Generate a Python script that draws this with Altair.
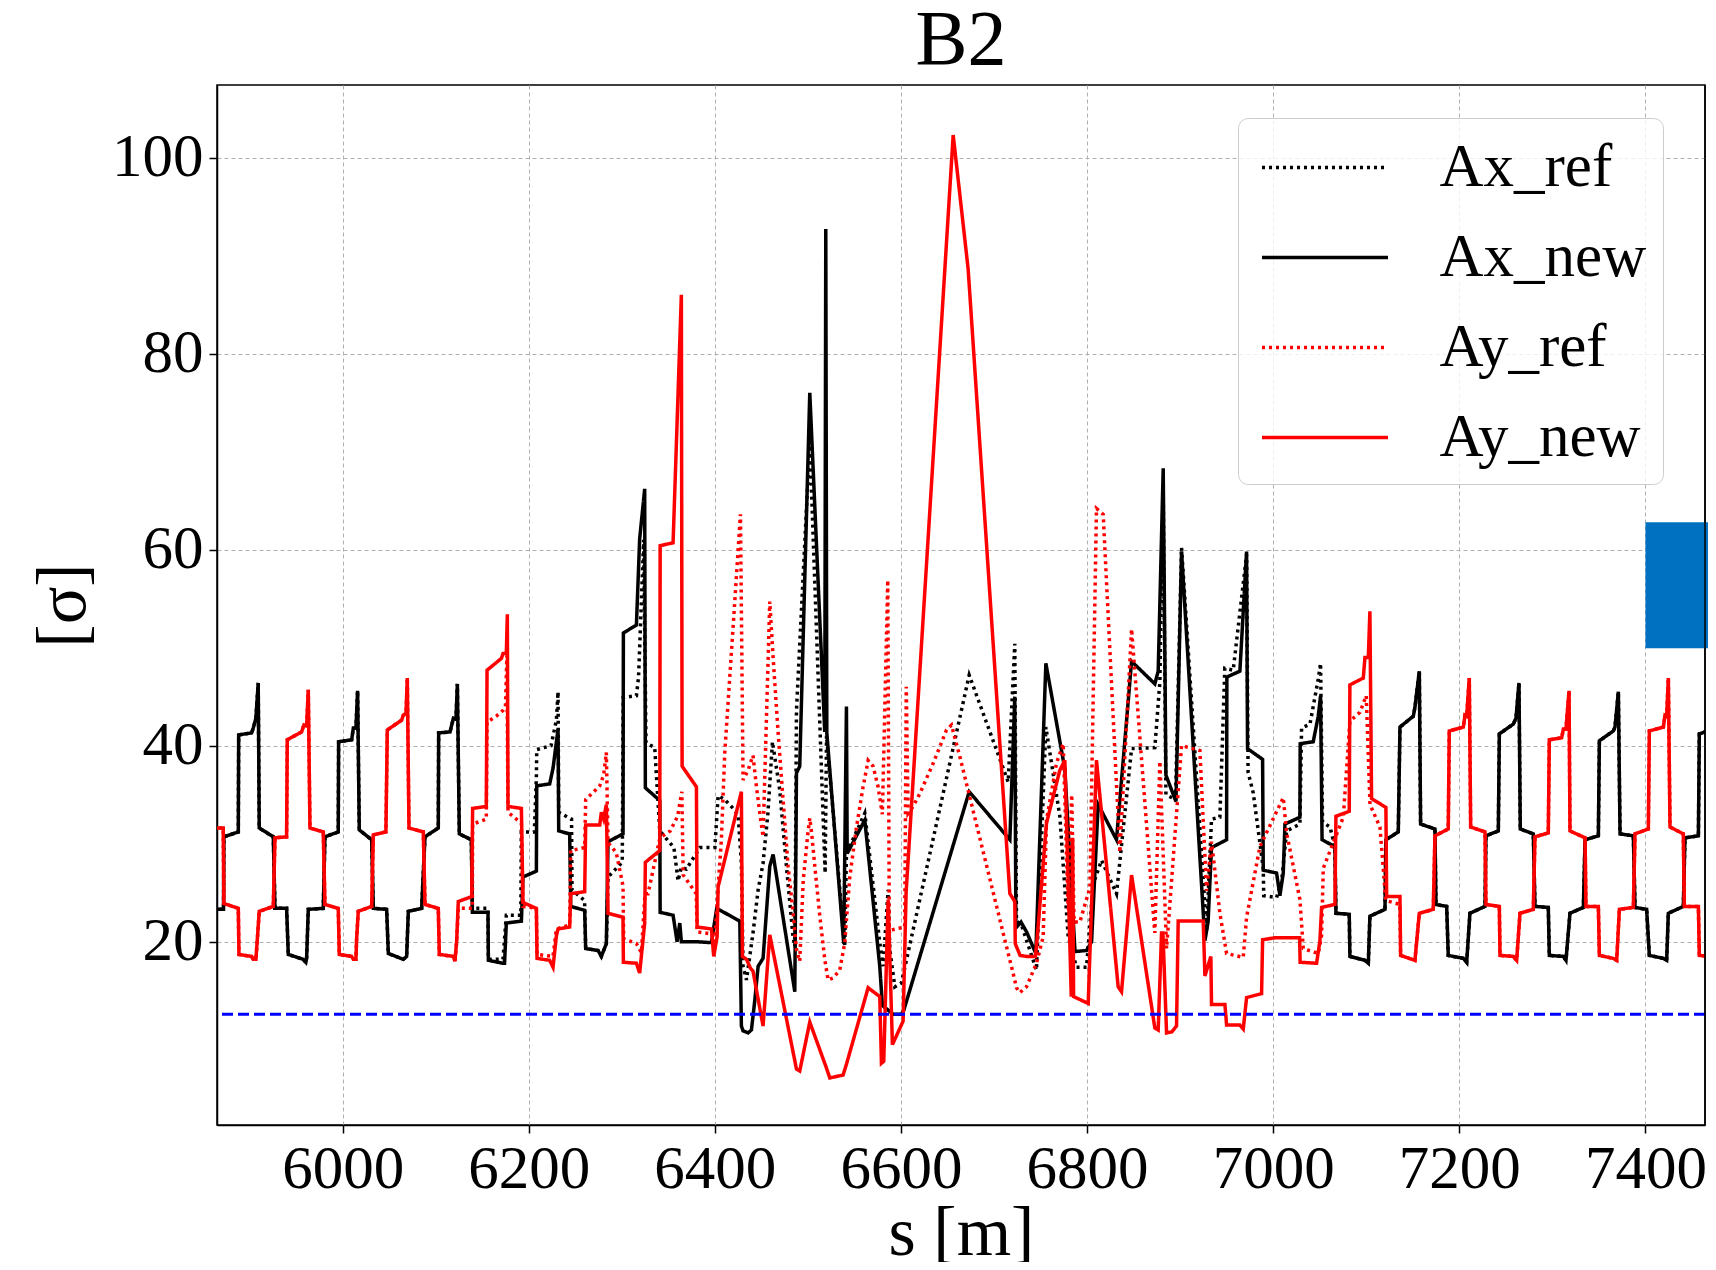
import altair as alt
import pandas as pd

# ---------------- values ----------------
SERIES = ["Ax_ref", "Ax_new", "Ay_ref", "Ay_new"]
COLORS = ["#000000", "#000000", "#ff0000", "#ff0000"]
DASHES = [[3, 4], [1, 0], [3, 4], [1, 0]]

X_DOMAIN = [5865, 7464]
Y_DOMAIN = [1.3, 107.4]
X_TICKS = [6000, 6200, 6400, 6600, 6800, 7000, 7200, 7400]
Y_TICKS = [20, 40, 60, 80, 100]
THRESHOLD = [12.6]
BOX_S = [7400, 7476]
BOX_V = [49.95, 62.8]

# horizontal aperture (black), arc cells left of the insertion, identical for ref/new
AX_ARC_LEFT = [
    (5860, 23.3), (5872.0, 23.3), (5872.4, 30.7), (5887.9, 31.2), (5888.3, 41.1), (5902.2, 41.3),
    (5904.0, 41.8), (5906.8, 42.8), (5909.3, 46.4), (5910.4, 31.6), (5925.5, 30.7), (5927.3, 23.4),
    (5939.8, 23.4), (5941.6, 18.7), (5957.7, 18.2), (5960.5, 17.9), (5961.3, 18.3), (5963.1, 23.3),
    (5979.2, 23.4), (5981.0, 30.7), (5995.3, 31.2), (5995.7, 40.4), (6009.7, 40.6), (6011.5, 41.8),
    (6014.3, 41.8), (6016.1, 45.6), (6017.9, 31.4), (6031.2, 30.4), (6033.0, 23.4), (6047.3, 23.3),
    (6049.1, 18.8), (6065.2, 18.2), (6068.8, 18.5), (6070.6, 23.1), (6084.9, 23.4), (6088.5, 30.7),
    (6102.8, 31.6), (6103.2, 41.3), (6115.4, 41.4), (6119.0, 42.8), (6121.8, 42.7), (6123.3, 46.3),
    (6125.4, 31.0), (6138.3, 30.4),
]
AX_NEW_IR = [
    (6139.4, 23.0), (6156.2, 23.0), (6156.6, 18.1), (6172.3, 17.8), (6174.0, 17.8), (6175.9, 21.9),
    (6192.1, 22.1), (6193.8, 26.6), (6208.2, 27.2), (6208.6, 35.9), (6222.5, 36.1), (6226.1, 37.7),
    (6231.5, 41.7), (6232.2, 31.3), (6244.0, 31.0), (6245.1, 23.6), (6260.1, 23.2), (6261.2, 19.3),
    (6274.5, 19.1), (6278.0, 18.5), (6283.4, 19.8), (6285.2, 30.2), (6301.3, 31.0), (6301.7, 51.5),
    (6315.7, 52.3), (6319.2, 61.1), (6324.6, 66.2), (6325.3, 35.7), (6340.8, 34.4), (6341.2, 23.0),
    (6355.1, 22.7), (6359.4, 20.0), (6362.3, 21.9), (6364.0, 20.0), (6380.2, 20.0), (6396.3, 19.9),
    (6402.0, 23.4), (6426.8, 22.1), (6428.5, 11.4), (6430.3, 10.9), (6435.7, 10.7), (6439.3, 11.0),
    (6442.9, 14.0), (6446.5, 17.5), (6451.8, 18.3), (6459.0, 27.7), (6462.6, 28.9), (6485.9, 14.9),
    (6487.7, 37.2), (6491.2, 37.9), (6502.0, 76.0), (6518.1, 41.4), (6519.2, 92.7), (6520.3, 41.3),
    (6538.5, 19.8), (6541.4, 44.0), (6542.2, 29.0), (6561.1, 32.4), (6577.2, 17.5), (6580.0, 13.5),
    (6591.6, 12.6), (6600.5, 12.6), (6603.0, 13.0), (6673.3, 35.3), (6717.0, 30.4), (6722.3, 45.0),
    (6723.5, 21.4), (6729.0, 22.0), (6735.0, 21.0), (6744.9, 18.8), (6755.7, 48.4), (6776.1, 37.6),
    (6787.0, 19.0), (6799.4, 19.1), (6804.8, 20.0), (6811.9, 34.0), (6831.6, 30.4), (6847.8, 48.6),
    (6872.8, 46.3), (6876.4, 47.6), (6881.8, 68.3), (6884.7, 37.0), (6895.5, 34.3), (6901.5, 59.8),
    (6926.6, 20.1), (6930.0, 22.0), (6933.7, 29.6), (6949.9, 30.4), (6950.2, 47.0), (6964.2, 47.6),
    (6971.4, 59.8), (6972.4, 39.7), (6988.6, 38.6), (6989.3, 27.3), (7003.6, 27.0), (7007.2, 24.7),
    (7010.8, 27.0), (7012.6, 32.0), (7028.7, 32.7), (7029.0, 40.2), (7043.0, 40.4), (7048.4, 43.0),
    (7050.9, 45.1), (7052.5, 30.4), (7066.3, 29.7),
]
AX_REF_IR = [
    (6139.4, 23.4), (6156.2, 23.4), (6156.6, 18.2), (6172.3, 18.2), (6175.9, 22.7), (6191.5, 22.7),
    (6192.0, 31.2), (6206.0, 31.2), (6208.2, 36.8), (6208.6, 39.6), (6224.0, 40.0), (6229.7, 42.6),
    (6231.5, 45.5), (6232.2, 33.2), (6246.0, 32.5), (6246.5, 25.3), (6260.0, 24.2), (6261.2, 19.3),
    (6274.5, 19.1), (6278.0, 18.5), (6283.4, 19.8), (6285.2, 26.6), (6300.5, 28.1), (6301.5, 44.9),
    (6315.7, 45.1), (6318.0, 47.0), (6323.5, 61.0), (6326.0, 40.3), (6335.4, 39.8), (6340.8, 31.3),
    (6356.0, 29.6), (6360.5, 26.2), (6364.0, 27.6), (6369.4, 27.4), (6383.8, 29.6), (6400.0, 29.6),
    (6403.5, 34.9), (6410.6, 34.5), (6419.6, 33.6), (6425.0, 32.9), (6428.5, 28.0), (6430.3, 17.5),
    (6434.0, 16.1), (6441.0, 20.9), (6446.5, 25.3), (6451.8, 28.0), (6457.0, 33.1), (6461.9, 40.4),
    (6469.7, 35.5), (6476.9, 27.7), (6484.0, 20.5), (6486.0, 19.5), (6487.7, 43.6), (6502.0, 71.0),
    (6518.5, 27.0), (6520.0, 41.0), (6539.6, 19.5), (6541.4, 29.0), (6561.1, 33.1), (6577.2, 19.9),
    (6580.8, 17.5), (6586.2, 25.3), (6588.0, 19.2), (6593.4, 15.4), (6600.5, 15.8), (6673.3, 47.2),
    (6715.2, 36.3), (6722.3, 50.4), (6724.1, 22.1), (6729.5, 21.7), (6745.6, 17.1), (6755.7, 41.9),
    (6770.7, 32.8), (6779.7, 20.5), (6788.6, 17.4), (6799.4, 17.4), (6806.6, 25.9), (6815.5, 28.3),
    (6831.6, 24.9), (6847.8, 39.7), (6872.8, 39.8), (6878.2, 46.5), (6881.8, 66.0), (6884.7, 35.0),
    (6895.0, 34.5), (6901.5, 60.2), (6928.4, 21.1), (6933.7, 32.5), (6942.7, 32.7), (6948.0, 47.9),
    (6957.0, 47.7), (6971.4, 59.5), (6973.0, 37.3), (6978.5, 35.2), (6989.3, 27.5), (6989.8, 24.7),
    (7003.6, 24.5), (7009.0, 26.1), (7014.4, 31.3), (7028.7, 32.0), (7030.5, 41.8), (7039.5, 42.2),
    (7048.4, 46.8), (7050.9, 48.4), (7053.0, 32.2), (7061.0, 31.7), (7066.3, 29.7),
]
AX_ARC_RIGHT = [
    (7067.4, 22.9), (7081.7, 22.8), (7082.4, 18.5), (7098.6, 18.1), (7102.2, 17.8), (7103.9, 22.6),
    (7120.1, 23.3), (7121.1, 30.4), (7134.4, 31.2), (7136.2, 41.9), (7150.5, 43.0), (7152.3, 43.9),
    (7157.0, 47.6), (7158.4, 32.0), (7173.8, 31.5), (7174.9, 23.8), (7186.4, 23.6), (7188.1, 18.6),
    (7204.3, 18.3), (7207.9, 17.9), (7211.4, 22.9), (7227.6, 23.6), (7228.6, 30.8), (7241.9, 31.3),
    (7243.0, 41.2), (7258.0, 42.2), (7260.9, 42.8), (7264.1, 46.4), (7265.5, 31.5), (7279.5, 31.0),
    (7281.3, 23.6), (7295.6, 23.5), (7296.7, 18.6), (7311.8, 18.5), (7314.6, 18.1), (7318.9, 22.9),
    (7333.3, 23.5), (7335.1, 30.4), (7349.4, 30.8), (7350.5, 40.5), (7365.5, 41.5), (7367.3, 41.9),
    (7370.9, 45.5), (7372.7, 31.0), (7387.0, 30.8), (7388.8, 23.5), (7401.3, 23.3), (7404.2, 18.6),
    (7419.3, 18.3), (7422.8, 18.1), (7424.6, 22.9), (7440.7, 23.6), (7442.5, 30.6), (7456.9, 30.8),
    (7457.9, 41.2), (7470.0, 41.6),
]

# vertical aperture (red)
AY_ARC_LEFT = [
    (5860, 31.6), (5871.7, 31.6), (5872.4, 23.9), (5887.9, 23.4), (5888.6, 18.7), (5902.2, 18.5),
    (5904.0, 18.2), (5906.8, 18.2), (5908.3, 20.2), (5910.4, 23.1), (5925.5, 23.6), (5927.3, 30.6),
    (5939.8, 30.7), (5940.5, 40.6), (5955.9, 41.4), (5958.4, 42.1), (5961.3, 42.0), (5963.1, 45.7),
    (5964.9, 31.6), (5979.2, 31.2), (5981.0, 23.8), (5995.3, 23.4), (5996.4, 18.7), (6009.7, 18.5),
    (6011.5, 18.2), (6014.3, 18.2), (6015.0, 20.2), (6016.8, 23.1), (6031.2, 23.6), (6033.0, 30.9),
    (6046.5, 31.2), (6048.0, 41.6), (6063.4, 42.6), (6065.2, 43.1), (6068.1, 43.3), (6069.5, 46.9),
    (6071.3, 31.6), (6086.7, 31.2), (6088.5, 23.8), (6102.8, 23.4), (6103.9, 18.7), (6119.0, 18.5),
    (6120.7, 18.0), (6122.5, 20.0),
]
AY_NEW_IR = [
    (6124.3, 24.1), (6138.7, 24.6), (6139.7, 33.6), (6154.4, 33.8), (6155.2, 47.7), (6170.6, 48.9),
    (6172.4, 49.4), (6175.9, 49.4), (6177.0, 53.4), (6177.7, 33.8), (6192.1, 33.6), (6193.8, 24.0),
    (6208.2, 23.4), (6208.9, 18.3), (6222.5, 18.1), (6226.1, 17.4), (6229.7, 20.6), (6231.5, 21.3),
    (6244.0, 21.5), (6245.1, 24.9), (6260.1, 25.1), (6261.2, 31.9), (6276.3, 31.9), (6278.0, 33.2),
    (6280.5, 32.5), (6283.4, 34.0), (6285.2, 22.9), (6301.3, 22.5), (6301.7, 17.9), (6315.7, 17.8),
    (6319.2, 16.8), (6324.6, 21.9), (6325.3, 28.1), (6340.8, 29.3), (6341.2, 60.4), (6355.1, 60.7),
    (6364.0, 86.0), (6364.8, 37.9), (6380.2, 35.8), (6380.9, 21.5), (6396.3, 21.3), (6398.8, 18.5),
    (6402.4, 20.5), (6403.5, 25.6), (6428.5, 35.3), (6429.6, 18.5), (6434.0, 18.2), (6438.2, 17.3),
    (6441.0, 17.0), (6451.8, 11.4), (6459.0, 20.7), (6487.7, 7.0), (6491.2, 6.8), (6502.0, 11.8),
    (6519.2, 7.3), (6523.5, 6.1), (6537.8, 6.4), (6541.4, 7.5), (6564.7, 15.3), (6577.2, 14.4),
    (6579.0, 7.6), (6581.5, 7.8), (6586.2, 24.3), (6590.8, 9.5), (6602.3, 11.9), (6605.5, 25.0),
    (6656.1, 102.3), (6672.2, 88.6), (6717.0, 24.9), (6722.3, 24.1), (6722.8, 19.8), (6728.0, 18.6),
    (6734.9, 18.5), (6744.5, 18.5), (6746.5, 20.5), (6756.4, 32.1), (6770.7, 37.5), (6776.1, 38.5),
    (6783.0, 14.4), (6784.5, 30.6), (6785.5, 14.4), (6801.2, 13.7), (6810.1, 38.5), (6833.4, 15.4),
    (6837.0, 14.9), (6847.8, 26.8), (6872.8, 11.2), (6876.4, 11.0), (6880.0, 20.9), (6881.5, 20.9),
    (6885.4, 10.7), (6891.0, 10.8), (6896.1, 11.4), (6897.9, 22.1), (6924.8, 22.1), (6926.6, 16.5),
    (6933.0, 18.5), (6933.7, 13.6), (6948.1, 13.6), (6949.9, 11.5), (6964.2, 11.5), (6967.8, 11.1),
    (6971.4, 14.3), (6987.5, 14.7), (6988.6, 20.2), (7001.8, 20.4), (7028.4, 20.4), (7028.9, 17.9),
    (7046.6, 17.8), (7050.2, 20.1), (7052.0, 23.5), (7066.3, 23.8), (7067.4, 32.8), (7081.7, 33.3),
    (7082.4, 46.2), (7096.8, 46.9), (7098.6, 49.0), (7102.2, 49.0), (7103.9, 53.7), (7105.7, 34.6),
    (7121.1, 33.7), (7121.9, 24.6), (7136.2, 24.6), (7136.9, 18.6), (7152.3, 18.1),
]
AY_REF_IR = [
    (6124.3, 23.4), (6139.4, 23.4), (6139.7, 32.0), (6154.4, 32.5), (6155.2, 42.4), (6165.0, 43.0),
    (6172.4, 43.6), (6175.0, 44.0), (6176.5, 49.2), (6177.7, 33.2), (6192.1, 32.1), (6193.8, 23.6),
    (6208.2, 23.4), (6208.9, 18.7), (6226.1, 18.5), (6229.7, 21.3), (6244.0, 21.7), (6245.1, 29.3),
    (6260.1, 29.6), (6261.2, 34.5), (6270.0, 35.3), (6276.3, 35.9), (6280.5, 37.0), (6283.4, 39.3),
    (6285.2, 30.1), (6294.0, 29.1), (6301.3, 25.7), (6302.0, 20.3), (6315.7, 19.8), (6321.0, 18.9),
    (6325.0, 24.9), (6328.2, 24.9), (6341.0, 30.6), (6352.0, 31.3), (6360.0, 32.8), (6364.5, 35.3),
    (6366.0, 26.8), (6380.0, 24.9), (6381.0, 21.0), (6396.3, 20.8), (6399.9, 20.0), (6403.5, 25.6),
    (6407.0, 30.4), (6410.6, 39.2), (6416.0, 47.0), (6419.6, 52.1), (6427.5, 63.6), (6430.3, 36.5),
    (6435.7, 37.5), (6441.0, 39.0), (6444.7, 35.8), (6448.3, 33.1), (6451.8, 30.7), (6459.0, 54.7),
    (6462.6, 49.0), (6468.0, 41.3), (6473.3, 34.5), (6478.7, 27.7), (6484.0, 23.0), (6487.7, 19.2),
    (6491.2, 18.0), (6495.0, 26.3), (6500.0, 31.1), (6502.0, 32.6), (6504.0, 31.1), (6507.4, 27.7),
    (6512.8, 22.6), (6518.1, 18.2), (6521.7, 16.1), (6527.1, 16.3), (6534.2, 17.1), (6539.6, 19.9),
    (6541.4, 22.2), (6545.0, 26.6), (6552.2, 31.7), (6559.3, 35.8), (6564.7, 38.5), (6570.1, 37.9),
    (6575.4, 35.8), (6580.0, 33.0), (6585.8, 56.9), (6587.5, 20.8), (6590.0, 21.2), (6604.0, 21.5),
    (6605.7, 46.0), (6607.7, 33.1), (6613.0, 33.8), (6620.2, 35.1), (6634.6, 38.2), (6648.9, 41.6),
    (6654.3, 42.1), (6663.2, 38.9), (6713.4, 19.5), (6720.5, 16.8), (6724.1, 15.3), (6727.7, 14.8),
    (6734.9, 15.4), (6745.6, 17.8), (6752.8, 20.5), (6756.4, 32.4), (6767.1, 38.2), (6774.3, 40.2),
    (6779.7, 23.3), (6783.5, 35.0), (6786.0, 22.0), (6792.2, 22.0), (6803.0, 25.5), (6810.1, 64.2),
    (6817.3, 63.6), (6835.2, 29.1), (6847.8, 51.9), (6872.8, 20.9), (6878.2, 38.4), (6885.4, 19.3),
    (6901.5, 40.0), (6921.2, 39.5), (6928.4, 25.2), (6933.7, 30.2), (6942.7, 22.9), (6949.9, 18.8),
    (6967.8, 18.4), (6971.4, 22.5), (6985.7, 29.7), (7010.8, 34.7), (7014.4, 31.1), (7028.7, 24.3),
    (7032.3, 19.3), (7048.4, 18.8), (7052.0, 20.6), (7053.8, 27.5), (7075.3, 32.7), (7082.4, 42.5),
    (7093.2, 43.4), (7100.0, 45.1), (7104.0, 34.0), (7114.7, 31.7), (7121.0, 24.2), (7136.2, 23.8),
    (7136.9, 18.6), (7152.3, 18.1),
]
AY_ARC_RIGHT = [
    (7157.0, 22.9), (7172.0, 23.3), (7173.8, 30.8), (7188.1, 31.5), (7189.2, 41.5), (7204.3, 41.9),
    (7206.1, 43.1), (7207.9, 43.0), (7210.7, 46.9), (7212.2, 31.7), (7227.6, 31.2), (7228.6, 23.8),
    (7243.0, 23.6), (7243.7, 18.6), (7258.0, 18.5), (7261.6, 18.1), (7265.2, 22.9), (7279.5, 23.3),
    (7281.3, 30.7), (7295.6, 31.1), (7296.7, 40.6), (7310.0, 40.8), (7311.8, 41.7), (7314.6, 41.7),
    (7317.9, 45.6), (7318.9, 31.3), (7335.1, 30.6), (7336.1, 23.6), (7349.4, 23.6), (7350.5, 18.6),
    (7365.5, 18.3), (7369.1, 18.1), (7372.0, 23.3), (7387.0, 23.5), (7388.8, 31.0), (7403.1, 31.5),
    (7404.2, 41.5), (7419.3, 41.9), (7421.0, 43.1), (7422.8, 43.0), (7424.6, 46.9), (7426.4, 31.7),
    (7440.7, 31.0), (7441.8, 23.6), (7456.9, 23.6), (7457.9, 18.6), (7470.0, 18.5),
]

# ---------------- table ----------------
CURVES = {
    "Ax_ref": AX_ARC_LEFT + AX_REF_IR + AX_ARC_RIGHT,
    "Ax_new": AX_ARC_LEFT + AX_NEW_IR + AX_ARC_RIGHT,
    "Ay_ref": AY_ARC_LEFT + AY_REF_IR + AY_ARC_RIGHT,
    "Ay_new": AY_ARC_LEFT + AY_NEW_IR + AY_ARC_RIGHT,
}
rows = []
for name in SERIES:
    for i, (s, v) in enumerate(CURVES[name]):
        rows.append({"series": name, "s": s, "v": v, "idx": i})
df = pd.DataFrame(rows)

FONT = "Liberation Serif"
LW = 3.5
xscale = alt.Scale(domain=X_DOMAIN, nice=False, zero=False)
yscale = alt.Scale(domain=Y_DOMAIN, nice=False, zero=False)
xaxis = alt.Axis(values=X_TICKS, format="d", title="s [m]", grid=True)
yaxis = alt.Axis(values=Y_TICKS, format="d", title="[σ]", grid=True)
X = alt.X("s:Q", scale=xscale, axis=xaxis)
Y = alt.Y("v:Q", scale=yscale, axis=yaxis)

legend = alt.Legend(
    title=None, orient="none", legendX=1021, legendY=33,
    symbolType="M-2,0H2", symbolSize=3969, symbolStrokeWidth=LW, symbolOffset=37.5,
    labelFont=FONT, labelFontSize=61, labelColor="black", labelOffset=81, labelLimit=0,
    rowPadding=26, padding=16, cornerRadius=10,
    strokeColor="#cccccc", fillColor="rgba(255,255,255,0.8)",
)
color = alt.Color("series:N", scale=alt.Scale(domain=SERIES, range=COLORS), legend=legend, sort=SERIES)
dash = alt.StrokeDash("series:N", scale=alt.Scale(domain=SERIES, range=DASHES), legend=legend, sort=SERIES)

layers = []
for name in SERIES:
    layers.append(
        alt.Chart(df)
        .transform_filter(alt.datum.series == name)
        .mark_line(strokeWidth=LW, clip=True, strokeCap="butt", strokeJoin="miter")
        .encode(x=X, y=Y, color=color, strokeDash=dash, order="idx:Q")
    )

thr = (
    alt.Chart(pd.DataFrame({"v": THRESHOLD}))
    .mark_rule(color="#0000ff", strokeDash=[11, 5], strokeWidth=3)
    .encode(y=alt.Y("v:Q", scale=yscale, axis=yaxis))
)

box = (
    alt.Chart(pd.DataFrame({"s": [BOX_S[0]], "s2": [BOX_S[1]], "v": [BOX_V[0]], "v2": [BOX_V[1]]}))
    .mark_rect(color="#0070c0", clip=False)
    .encode(x=X, x2="s2:Q", y=Y, y2="v2:Q")
)
spine = (
    alt.Chart(pd.DataFrame({"s": [X_DOMAIN[1]]}))
    .mark_rule(color="black", strokeWidth=1.5)
    .encode(x=X)
)

chart = (
    alt.layer(*layers, thr, box, spine)
    .properties(
        width=1488, height=1040,
        title=alt.TitleParams("B2", font=FONT, fontSize=78, fontWeight="normal", anchor="middle", offset=4, color="black"),
        padding={"left": 209, "top": 77, "right": 3, "bottom": 137},
        autosize=alt.AutoSizeParams(type="none"),
    )
    .configure_view(stroke="black", strokeWidth=1.5)
    .configure_axis(
        labelFont=FONT, labelFontSize=61, labelColor="black",
        titleFont=FONT, titleFontSize=70, titleFontWeight="normal", titleColor="black",
        domainColor="black", domainWidth=1.5, tickColor="black", tickWidth=1.5, tickSize=8,
        labelPadding=6, gridColor="#b0b0b0", gridDash=[4, 3], gridWidth=1,
    )
    .configure_axisX(titlePadding=0, labelPadding=6)
    .configure_axisY(titlePadding=12)
)

chart.save("out.html", embed_options={"renderer": "svg", "actions": False})
